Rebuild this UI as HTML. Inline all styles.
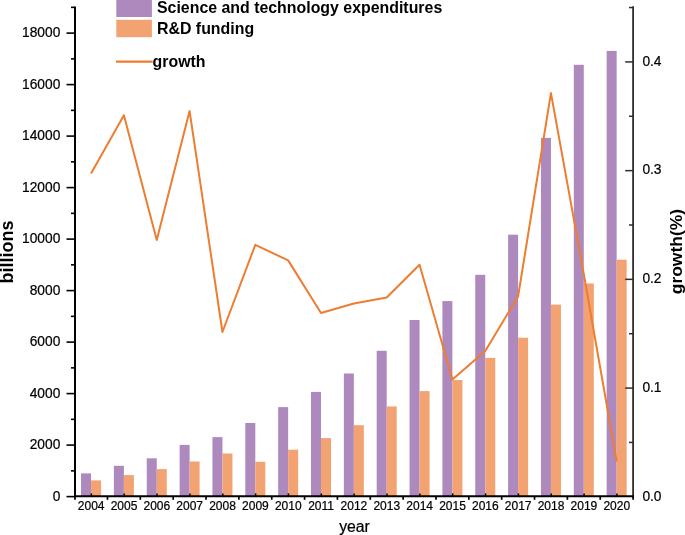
<!DOCTYPE html>
<html><head><meta charset="utf-8"><title>chart</title>
<style>
html,body{margin:0;padding:0;background:#fff;}
body{width:685px;height:535px;overflow:hidden;}
svg{display:block;filter:grayscale(0);}
text{font-family:"Liberation Sans",sans-serif;fill:#000;}
.r{stroke:#000;stroke-width:0.22px;}
.b{font-weight:bold;}
</style></head><body>
<svg width="685" height="535" viewBox="0 0 685 535">
<rect x="0" y="0" width="685" height="535" fill="#fff"/>
<rect x="81.05" y="473.40" width="10.00" height="22.80" fill="#AE89BD"/>
<rect x="91.05" y="480.40" width="10.00" height="15.80" fill="#F3A271"/>
<rect x="113.90" y="465.80" width="10.00" height="30.40" fill="#AE89BD"/>
<rect x="123.90" y="475.10" width="10.00" height="21.10" fill="#F3A271"/>
<rect x="146.75" y="458.30" width="10.00" height="37.90" fill="#AE89BD"/>
<rect x="156.75" y="469.10" width="10.00" height="27.10" fill="#F3A271"/>
<rect x="179.60" y="444.90" width="10.00" height="51.30" fill="#AE89BD"/>
<rect x="189.60" y="461.50" width="10.00" height="34.70" fill="#F3A271"/>
<rect x="212.45" y="437.10" width="10.00" height="59.10" fill="#AE89BD"/>
<rect x="222.45" y="453.50" width="10.00" height="42.70" fill="#F3A271"/>
<rect x="245.30" y="423.00" width="10.00" height="73.20" fill="#AE89BD"/>
<rect x="255.30" y="461.80" width="10.00" height="34.40" fill="#F3A271"/>
<rect x="278.15" y="407.10" width="10.00" height="89.10" fill="#AE89BD"/>
<rect x="288.15" y="449.70" width="10.00" height="46.50" fill="#F3A271"/>
<rect x="311.00" y="391.90" width="10.00" height="104.30" fill="#AE89BD"/>
<rect x="321.00" y="438.10" width="10.00" height="58.10" fill="#F3A271"/>
<rect x="343.85" y="373.50" width="10.00" height="122.70" fill="#AE89BD"/>
<rect x="353.85" y="425.20" width="10.00" height="71.00" fill="#F3A271"/>
<rect x="376.70" y="350.80" width="10.00" height="145.40" fill="#AE89BD"/>
<rect x="386.70" y="406.40" width="10.00" height="89.80" fill="#F3A271"/>
<rect x="409.55" y="320.00" width="10.00" height="176.20" fill="#AE89BD"/>
<rect x="419.55" y="391.10" width="10.00" height="105.10" fill="#F3A271"/>
<rect x="442.40" y="301.10" width="10.00" height="195.10" fill="#AE89BD"/>
<rect x="452.40" y="380.00" width="10.00" height="116.20" fill="#F3A271"/>
<rect x="475.25" y="274.80" width="10.00" height="221.40" fill="#AE89BD"/>
<rect x="485.25" y="357.90" width="10.00" height="138.30" fill="#F3A271"/>
<rect x="508.10" y="234.70" width="10.00" height="261.50" fill="#AE89BD"/>
<rect x="518.10" y="337.70" width="10.00" height="158.50" fill="#F3A271"/>
<rect x="540.95" y="137.90" width="10.00" height="358.30" fill="#AE89BD"/>
<rect x="550.95" y="304.60" width="10.00" height="191.60" fill="#F3A271"/>
<rect x="573.80" y="64.80" width="10.00" height="431.40" fill="#AE89BD"/>
<rect x="583.80" y="283.50" width="10.00" height="212.70" fill="#F3A271"/>
<rect x="606.65" y="50.90" width="10.00" height="445.30" fill="#AE89BD"/>
<rect x="616.65" y="259.70" width="10.00" height="236.50" fill="#F3A271"/>
<polyline points="91.05,173.50 123.90,115.30 156.75,240.00 189.60,111.10 222.45,332.00 255.30,244.80 288.15,260.40 321.00,313.00 353.85,303.50 386.70,297.50 419.55,264.80 452.40,379.50 485.25,351.00 518.10,296.40 550.95,93.10 583.80,274.20 616.65,461.30" fill="none" stroke="#ED7D31" stroke-width="2.0" stroke-linejoin="round"/>
<g stroke="#000" fill="none">
<line x1="75.0" y1="6.4" x2="75.0" y2="497.2" stroke-width="2.0"/>
<line x1="633.1" y1="6.2" x2="633.1" y2="497.2" stroke-width="1.8" stroke="#2e2e2e"/>
<line x1="74.0" y1="496.2" x2="633.95" y2="496.2" stroke-width="2"/>
<line x1="66.5" y1="496.60" x2="75.0" y2="496.60" stroke-width="1.6"/>
<line x1="71" y1="470.85" x2="75.0" y2="470.85" stroke-width="1.6"/>
<line x1="66.5" y1="445.10" x2="75.0" y2="445.10" stroke-width="1.6"/>
<line x1="71" y1="419.35" x2="75.0" y2="419.35" stroke-width="1.6"/>
<line x1="66.5" y1="393.60" x2="75.0" y2="393.60" stroke-width="1.6"/>
<line x1="71" y1="367.85" x2="75.0" y2="367.85" stroke-width="1.6"/>
<line x1="66.5" y1="342.10" x2="75.0" y2="342.10" stroke-width="1.6"/>
<line x1="71" y1="316.35" x2="75.0" y2="316.35" stroke-width="1.6"/>
<line x1="66.5" y1="290.60" x2="75.0" y2="290.60" stroke-width="1.6"/>
<line x1="71" y1="264.85" x2="75.0" y2="264.85" stroke-width="1.6"/>
<line x1="66.5" y1="239.10" x2="75.0" y2="239.10" stroke-width="1.6"/>
<line x1="71" y1="213.35" x2="75.0" y2="213.35" stroke-width="1.6"/>
<line x1="66.5" y1="187.60" x2="75.0" y2="187.60" stroke-width="1.6"/>
<line x1="71" y1="161.85" x2="75.0" y2="161.85" stroke-width="1.6"/>
<line x1="66.5" y1="136.10" x2="75.0" y2="136.10" stroke-width="1.6"/>
<line x1="71" y1="110.35" x2="75.0" y2="110.35" stroke-width="1.6"/>
<line x1="66.5" y1="84.60" x2="75.0" y2="84.60" stroke-width="1.6"/>
<line x1="71" y1="58.85" x2="75.0" y2="58.85" stroke-width="1.6"/>
<line x1="66.5" y1="33.10" x2="75.0" y2="33.10" stroke-width="1.6"/>
<line x1="71" y1="7.35" x2="75.0" y2="7.35" stroke-width="1.6"/>
<line x1="629" y1="442.44" x2="633.1" y2="442.44" stroke-width="1.5" stroke="#2e2e2e"/>
<line x1="625.2" y1="388.08" x2="633.1" y2="388.08" stroke-width="1.5" stroke="#2e2e2e"/>
<line x1="629" y1="333.72" x2="633.1" y2="333.72" stroke-width="1.5" stroke="#2e2e2e"/>
<line x1="625.2" y1="279.36" x2="633.1" y2="279.36" stroke-width="1.5" stroke="#2e2e2e"/>
<line x1="629" y1="225.00" x2="633.1" y2="225.00" stroke-width="1.5" stroke="#2e2e2e"/>
<line x1="625.2" y1="170.64" x2="633.1" y2="170.64" stroke-width="1.5" stroke="#2e2e2e"/>
<line x1="629" y1="116.28" x2="633.1" y2="116.28" stroke-width="1.5" stroke="#2e2e2e"/>
<line x1="625.2" y1="61.92" x2="633.1" y2="61.92" stroke-width="1.5" stroke="#2e2e2e"/>
<line x1="629" y1="7.56" x2="633.1" y2="7.56" stroke-width="1.5" stroke="#2e2e2e"/>
<line x1="75.00" y1="496.2" x2="75.00" y2="499.8" stroke-width="1.7"/>
<line x1="107.47" y1="496.2" x2="107.47" y2="499.8" stroke-width="1.7"/>
<line x1="140.32" y1="496.2" x2="140.32" y2="499.8" stroke-width="1.7"/>
<line x1="173.18" y1="496.2" x2="173.18" y2="499.8" stroke-width="1.7"/>
<line x1="206.03" y1="496.2" x2="206.03" y2="499.8" stroke-width="1.7"/>
<line x1="238.88" y1="496.2" x2="238.88" y2="499.8" stroke-width="1.7"/>
<line x1="271.73" y1="496.2" x2="271.73" y2="499.8" stroke-width="1.7"/>
<line x1="304.58" y1="496.2" x2="304.58" y2="499.8" stroke-width="1.7"/>
<line x1="337.43" y1="496.2" x2="337.43" y2="499.8" stroke-width="1.7"/>
<line x1="370.28" y1="496.2" x2="370.28" y2="499.8" stroke-width="1.7"/>
<line x1="403.12" y1="496.2" x2="403.12" y2="499.8" stroke-width="1.7"/>
<line x1="435.98" y1="496.2" x2="435.98" y2="499.8" stroke-width="1.7"/>
<line x1="468.83" y1="496.2" x2="468.83" y2="499.8" stroke-width="1.7"/>
<line x1="501.68" y1="496.2" x2="501.68" y2="499.8" stroke-width="1.7"/>
<line x1="534.53" y1="496.2" x2="534.53" y2="499.8" stroke-width="1.7"/>
<line x1="567.38" y1="496.2" x2="567.38" y2="499.8" stroke-width="1.7"/>
<line x1="600.23" y1="496.2" x2="600.23" y2="499.8" stroke-width="1.7"/>
<line x1="633.10" y1="496.2" x2="633.10" y2="499.8" stroke-width="1.7"/>
<line x1="91.35" y1="496.2" x2="91.35" y2="493.4" stroke-width="1.5"/>
<line x1="124.20" y1="496.2" x2="124.20" y2="493.4" stroke-width="1.5"/>
<line x1="157.05" y1="496.2" x2="157.05" y2="493.4" stroke-width="1.5"/>
<line x1="189.90" y1="496.2" x2="189.90" y2="493.4" stroke-width="1.5"/>
<line x1="222.75" y1="496.2" x2="222.75" y2="493.4" stroke-width="1.5"/>
<line x1="255.60" y1="496.2" x2="255.60" y2="493.4" stroke-width="1.5"/>
<line x1="288.45" y1="496.2" x2="288.45" y2="493.4" stroke-width="1.5"/>
<line x1="321.30" y1="496.2" x2="321.30" y2="493.4" stroke-width="1.5"/>
<line x1="354.15" y1="496.2" x2="354.15" y2="493.4" stroke-width="1.5"/>
<line x1="387.00" y1="496.2" x2="387.00" y2="493.4" stroke-width="1.5"/>
<line x1="419.85" y1="496.2" x2="419.85" y2="493.4" stroke-width="1.5"/>
<line x1="452.70" y1="496.2" x2="452.70" y2="493.4" stroke-width="1.5"/>
<line x1="485.55" y1="496.2" x2="485.55" y2="493.4" stroke-width="1.5"/>
<line x1="518.40" y1="496.2" x2="518.40" y2="493.4" stroke-width="1.5"/>
<line x1="551.25" y1="496.2" x2="551.25" y2="493.4" stroke-width="1.5"/>
<line x1="584.10" y1="496.2" x2="584.10" y2="493.4" stroke-width="1.5"/>
<line x1="616.95" y1="496.2" x2="616.95" y2="493.4" stroke-width="1.5"/>
</g>
<text transform="translate(60.3,500.95) scale(0.97,1)" class="r" font-size="14.2" text-anchor="end">0</text>
<text transform="translate(60.3,449.45) scale(0.97,1)" class="r" font-size="14.2" text-anchor="end">2000</text>
<text transform="translate(60.3,397.95) scale(0.97,1)" class="r" font-size="14.2" text-anchor="end">4000</text>
<text transform="translate(60.3,346.45) scale(0.97,1)" class="r" font-size="14.2" text-anchor="end">6000</text>
<text transform="translate(60.3,294.95) scale(0.97,1)" class="r" font-size="14.2" text-anchor="end">8000</text>
<text transform="translate(60.3,243.45) scale(0.97,1)" class="r" font-size="14.2" text-anchor="end">10000</text>
<text transform="translate(60.3,191.95) scale(0.97,1)" class="r" font-size="14.2" text-anchor="end">12000</text>
<text transform="translate(60.3,140.45) scale(0.97,1)" class="r" font-size="14.2" text-anchor="end">14000</text>
<text transform="translate(60.3,88.95) scale(0.97,1)" class="r" font-size="14.2" text-anchor="end">16000</text>
<text transform="translate(60.3,37.45) scale(0.97,1)" class="r" font-size="14.2" text-anchor="end">18000</text>
<text transform="translate(642.4,500.65) scale(0.97,1)" class="r" font-size="14.2">0.0</text>
<text transform="translate(642.4,391.93) scale(0.97,1)" class="r" font-size="14.2">0.1</text>
<text transform="translate(642.4,283.21) scale(0.97,1)" class="r" font-size="14.2">0.2</text>
<text transform="translate(642.4,174.49) scale(0.97,1)" class="r" font-size="14.2">0.3</text>
<text transform="translate(642.4,65.77) scale(0.97,1)" class="r" font-size="14.2">0.4</text>
<text x="91.15" y="509.6" class="r" font-size="12" text-anchor="middle">2004</text>
<text x="124.00" y="509.6" class="r" font-size="12" text-anchor="middle">2005</text>
<text x="156.85" y="509.6" class="r" font-size="12" text-anchor="middle">2006</text>
<text x="189.70" y="509.6" class="r" font-size="12" text-anchor="middle">2007</text>
<text x="222.55" y="509.6" class="r" font-size="12" text-anchor="middle">2008</text>
<text x="255.40" y="509.6" class="r" font-size="12" text-anchor="middle">2009</text>
<text x="288.25" y="509.6" class="r" font-size="12" text-anchor="middle">2010</text>
<text x="321.10" y="509.6" class="r" font-size="12" text-anchor="middle">2011</text>
<text x="353.95" y="509.6" class="r" font-size="12" text-anchor="middle">2012</text>
<text x="386.80" y="509.6" class="r" font-size="12" text-anchor="middle">2013</text>
<text x="419.65" y="509.6" class="r" font-size="12" text-anchor="middle">2014</text>
<text x="452.50" y="509.6" class="r" font-size="12" text-anchor="middle">2015</text>
<text x="485.35" y="509.6" class="r" font-size="12" text-anchor="middle">2016</text>
<text x="518.20" y="509.6" class="r" font-size="12" text-anchor="middle">2017</text>
<text x="551.05" y="509.6" class="r" font-size="12" text-anchor="middle">2018</text>
<text x="583.90" y="509.6" class="r" font-size="12" text-anchor="middle">2019</text>
<text x="616.75" y="509.6" class="r" font-size="12" text-anchor="middle">2020</text>
<text x="354.5" y="532.1" class="r" font-size="15.8" text-anchor="middle">year</text>
<text class="b" transform="translate(13.0,252.0) rotate(-90)" font-size="18" text-anchor="middle">billions</text>
<text class="b" transform="translate(681.7,251.6) rotate(-90)" font-size="16.4" text-anchor="middle" textLength="85.4" lengthAdjust="spacingAndGlyphs">growth(%)</text>
<rect x="116.3" y="-1" width="35.6" height="18.0" fill="#AE89BD"/>
<rect x="116.3" y="19.8" width="35.6" height="17.4" fill="#F3A271"/>
<line x1="116.0" y1="61.6" x2="152.7" y2="61.6" stroke="#ED7D31" stroke-width="2.1"/>
<text class="b" x="157.0" y="13.4" font-size="15.9">Science and technology expenditures</text>
<text class="b" x="157.0" y="34.0" font-size="15.9">R&amp;D funding</text>
<text class="b" x="152.6" y="67.2" font-size="15.9">growth</text>
</svg></body></html>
